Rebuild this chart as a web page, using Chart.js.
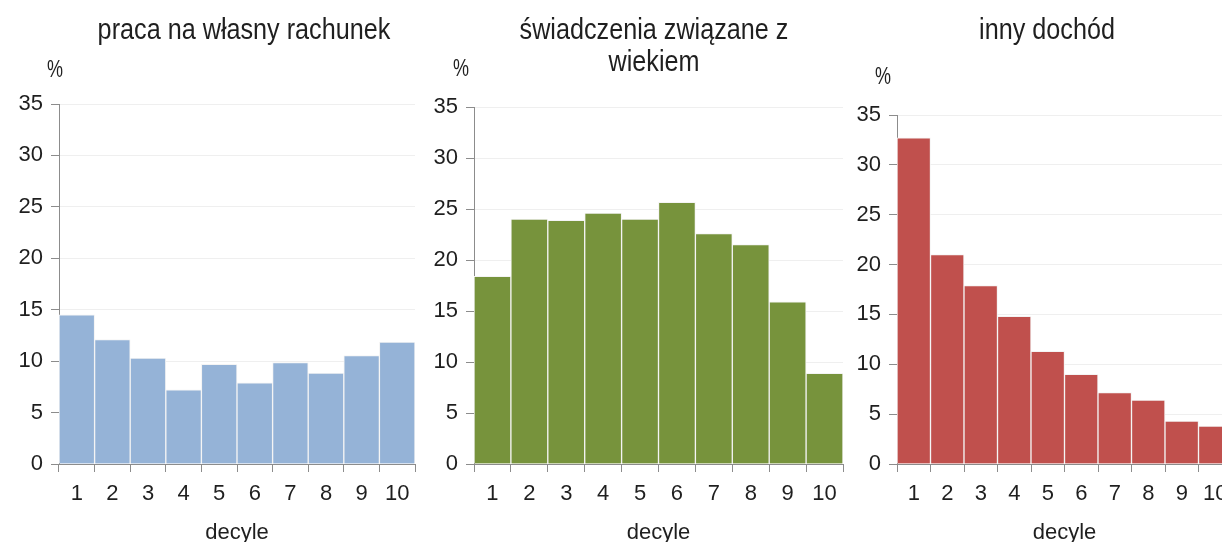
<!DOCTYPE html>
<html>
<head>
<meta charset="utf-8">
<script src="https://cdn.jsdelivr.net/npm/chart.js@4.4.0/dist/chart.umd.min.js"></script>
<style>
    html, body { margin: 0; padding: 0; background: #fff; overflow: hidden; width: 1222px; height: 542px; }
    canvas { position: absolute; top: 0; }
</style>
</head>
<body>
<canvas id="chart1" width="440" height="542" style="left:0px"></canvas>
<canvas id="chart2" width="440" height="542" style="left:420px"></canvas>
<canvas id="chart3" width="410" height="542" style="left:840px"></canvas>
<script>
const deciles = ["1", "2", "3", "4", "5", "6", "7", "8", "9", "10"];
const selfEmployment = [14.5, 12.1, 10.3, 7.2, 9.7, 7.9, 9.85, 8.85, 10.55, 11.85];
const ageBenefits = [18.4, 24.0, 23.9, 24.6, 24.0, 25.65, 22.6, 21.5, 15.9, 8.9];
const otherIncome = [32.7, 21.0, 17.9, 14.8, 11.3, 9.0, 7.15, 6.4, 4.3, 3.8];
const yMax = 35;
const yStep = 5;
const titles = [
    ["praca na własny rachunek"],
    ["świadczenia związane z", "wiekiem"],
    ["inny dochód"]
];
const unitLabel = "%";
const axisLabel = "decyle";

const FONT = '"Liberation Sans", Arial, sans-serif';
const TEXT = "#1f1f1f";
const AXIS = "#8c8c8c";

// condensed text, the source figure uses a narrow face
function narrowText(ctx, text, x, y, size, squeeze) {
    ctx.save();
    ctx.translate(x, y);
    ctx.scale(squeeze, 1);
    ctx.font = size + "px " + FONT;
    ctx.fillText(text, 0, 0);
    ctx.restore();
}

// draws the panel title and the "%" unit above the y axis
const panelText = {
    id: "panelText",
    afterDraw(chart, args, opts) {
        const ctx = chart.ctx;
        ctx.save();
        ctx.fillStyle = TEXT;
        ctx.textAlign = "center";
        ctx.textBaseline = "middle";
        opts.lines.forEach((line, i) => narrowText(ctx, line, opts.titleX, opts.titleY + i * 32, 30, 0.84));
        narrowText(ctx, opts.unit, opts.unitX, opts.unitY, 24, 0.75);
        ctx.restore();
    }
};

function makePanel(id, values, color, lines, g) {
    const canvas = document.getElementById(id);
    return new Chart(canvas, {
        type: "bar",
        data: {
            labels: deciles,
            datasets: [{
                data: values,
                backgroundColor: color,
                borderColor: "#f4f4f4",
                borderWidth: 1,
                barPercentage: 1,
                categoryPercentage: 1
            }]
        },
        options: {
            responsive: false,
            animation: false,
            layout: {
                padding: {left: 0, top: g.top, right: canvas.width - g.right, bottom: 0}
            },
            plugins: {
                legend: {display: false},
                tooltip: {enabled: false},
                panelText: {
                    lines: lines, unit: unitLabel,
                    titleX: g.titleX, titleY: 31,
                    unitX: g.unitX, unitY: g.unitY
                }
            },
            scales: {
                x: {
                    offset: true,
                    afterFit: (s) => { s.height = 78; },
                    grid: {offset: true, drawOnChartArea: false, drawTicks: true, tickLength: 8, tickColor: AXIS},
                    border: {color: AXIS},
                    ticks: {color: TEXT, font: {family: FONT, size: 22}, padding: 9, maxRotation: 0, autoSkip: false},
                    title: {display: true, text: axisLabel, color: TEXT, font: {family: FONT, size: 22, lineHeight: 0.85}, padding: 0}
                },
                y: {
                    min: 0,
                    max: yMax,
                    afterFit: (s) => { s.width = g.left; },
                    grid: {color: "#efefef", tickColor: AXIS, tickLength: 8},
                    border: {color: AXIS},
                    ticks: {stepSize: yStep, color: TEXT, font: {family: FONT, size: 22}, padding: 8}
                }
            }
        },
        plugins: [panelText]
    });
}

makePanel("chart1", selfEmployment, "#95b3d7", titles[0],
    {left: 59, right: 415, top: 104, titleX: 244, unitX: 55, unitY: 70});
makePanel("chart2", ageBenefits, "#77933c", titles[1],
    {left: 54, right: 423, top: 107, titleX: 234, unitX: 41, unitY: 69});
makePanel("chart3", otherIncome, "#c0504d", titles[2],
    {left: 57, right: 392, top: 115, titleX: 207, unitX: 43, unitY: 77});
</script>
</body>
</html>
